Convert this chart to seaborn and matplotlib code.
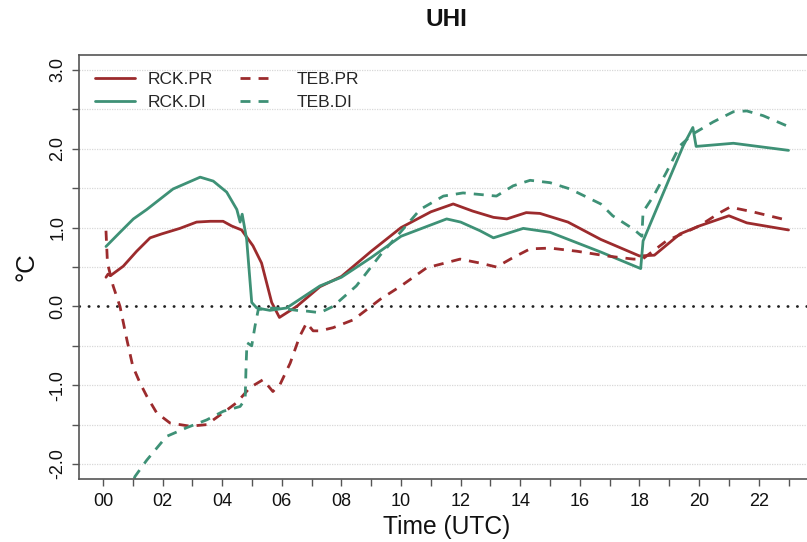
import numpy as np
import pandas as pd
import seaborn as sns
import matplotlib
matplotlib.use("Agg")
import matplotlib.pyplot as plt

# Hourly urban heat island intensity (°C) for four model runs
rck_pr_hour = [0.1, 0.17, 0.25, 0.68, 1.13, 1.58, 1.97, 2.58, 3.14, 3.6, 4.03, 4.32, 4.65,
               5.03, 5.32, 5.66, 5.92, 6.5, 7.28, 8.0, 9.0, 10.0, 11.0, 11.75, 12.4, 13.1,
               13.55, 14.2, 14.66, 15.6, 16.7, 18.0, 18.5, 19.36, 20.0, 21.0, 21.6, 23.0]
rck_pr_uhi = [0.37, 0.41, 0.39, 0.51, 0.70, 0.87, 0.92, 0.99, 1.07, 1.08, 1.08, 1.02, 0.97,
              0.77, 0.55, 0.05, -0.14, 0.0, 0.25, 0.38, 0.70, 1.0, 1.20, 1.30, 1.21, 1.13,
              1.11, 1.19, 1.18, 1.07, 0.85, 0.64, 0.65, 0.92, 1.02, 1.15, 1.06, 0.97]

rck_di_hour = [0.1, 0.57, 1.02, 1.47, 2.35, 3.26, 3.7, 4.15, 4.49, 4.6, 4.67, 4.82, 4.99,
               5.16, 5.6, 6.16, 7.28, 8.0, 9.0, 10.0, 11.53, 12.0, 12.65, 13.1, 14.1, 15.0,
               16.7, 18.04, 18.12, 18.9, 19.47, 19.79, 19.9, 21.15, 23.0]
rck_di_uhi = [0.76, 0.94, 1.11, 1.23, 1.49, 1.64, 1.59, 1.45, 1.23, 1.07, 1.17, 0.85, 0.05,
              -0.02, -0.05, -0.02, 0.26, 0.37, 0.62, 0.89, 1.11, 1.07, 0.96, 0.87, 0.99, 0.94,
              0.69, 0.48, 0.83, 1.53, 2.04, 2.27, 2.03, 2.07, 1.98]

teb_pr_hour = [0.1, 0.15, 0.34, 0.57, 0.8, 1.0, 1.24, 1.47, 1.8, 2.25, 2.92, 3.48, 4.03,
               4.49, 4.93, 5.37, 5.7, 5.94, 6.28, 6.6, 6.83, 7.05, 7.28, 7.72, 8.4, 9.3,
               10.0, 10.86, 11.98, 12.65, 13.2, 13.76, 14.33, 15.0, 15.9, 16.9, 17.8, 18.1,
               18.9, 20.0, 20.7, 21.04, 21.8, 23.0]
teb_pr_uhi = [0.96, 0.55, 0.26, 0.0, -0.42, -0.76, -0.97, -1.14, -1.35, -1.48, -1.52, -1.50,
              -1.35, -1.22, -1.03, -0.93, -1.08, -0.99, -0.72, -0.38, -0.21, -0.31, -0.31,
              -0.27, -0.17, 0.09, 0.26, 0.49, 0.60, 0.55, 0.50, 0.62, 0.73, 0.74, 0.70,
              0.64, 0.60, 0.60, 0.83, 1.02, 1.19, 1.26, 1.20, 1.09]

teb_di_hour = [0.85, 1.07, 1.47, 2.13, 2.8, 3.48, 4.04, 4.6, 4.77, 4.80, 4.83, 4.99, 5.1,
               5.21, 5.6, 6.1, 6.5, 6.84, 7.28, 7.72, 8.5, 8.85, 9.3, 10.0, 10.64, 11.42,
               12.08, 12.65, 13.2, 13.76, 14.33, 15.0, 15.67, 16.7, 17.1, 17.8, 18.08,
               18.12, 18.47, 18.9, 19.36, 19.8, 20.47, 21.15, 21.6, 22.15, 22.95]
teb_di_uhi = [-2.4, -2.16, -1.95, -1.65, -1.54, -1.44, -1.33, -1.27, -1.18, -0.76, -0.46,
              -0.50, -0.25, -0.04, -0.02, -0.03, -0.05, -0.06, -0.08, 0.0, 0.26, 0.43,
              0.65, 0.95, 1.23, 1.40, 1.44, 1.42, 1.40, 1.53, 1.60, 1.57, 1.49, 1.30,
              1.15, 0.98, 0.89, 1.2, 1.40, 1.70, 2.04, 2.19, 2.34, 2.47, 2.48, 2.42, 2.29]

series_names = ["RCK.PR", "RCK.DI", "TEB.PR", "TEB.DI"]
hour_tick_labels = ["00", "02", "04", "06", "08", "10", "12", "14", "16", "18", "20", "22"]
uhi_tick_labels = ["-2.0", "-1.0", "0.0", "1.0", "2.0", "3.0"]

RED = "#9c2b2d"
GREEN = "#3e9176"
styles = {
    "RCK.PR": dict(color=RED, dashed=False),
    "RCK.DI": dict(color=GREEN, dashed=False),
    "TEB.PR": dict(color=RED, dashed=True),
    "TEB.DI": dict(color=GREEN, dashed=True),
}

frames = []
for name, h, v in zip(series_names,
                      [rck_pr_hour, rck_di_hour, teb_pr_hour, teb_di_hour],
                      [rck_pr_uhi, rck_di_uhi, teb_pr_uhi, teb_di_uhi]):
    frames.append(pd.DataFrame({"hour": h, "uhi": v, "run": name}))
df = pd.concat(frames, ignore_index=True)

sns.set_theme(style="white")
plt.rcParams["font.family"] = ["Liberation Sans", "DejaVu Sans"]

fig = plt.figure(figsize=(8.07, 5.42), dpi=100)
ax = fig.add_axes([79 / 807, 1 - 479 / 542, 1 - 79 / 807, (479 - 55) / 542])

# reference grid every half degree, dotted zero line
for gy in np.arange(-2.0, 3.01, 0.5):
    if abs(gy) < 1e-9:
        continue
    ax.axhline(gy, color="#d8d8d8", lw=0.9, ls=(0, (1, 1)), zorder=0)
ax.axhline(0.0, color="#222222", lw=2.0, ls=(0, (0.1, 3.3)),
           dash_capstyle="round", zorder=1)

for name in series_names:
    st = styles[name]
    sub = df[df["run"] == name]
    sns.lineplot(data=sub, x="hour", y="uhi", ax=ax, color=st["color"],
                 lw=2.0, estimator=None, sort=False, label=name, legend=False)
    line = ax.get_lines()[-1]
    if st["dashed"]:
        line.set_dashes((3.6, 2.9))

ax.set_xlim(-0.805, 23.62)
ax.set_ylim(-2.19, 3.19)

ax.set_xticks(np.arange(0, 24, 1))
ax.set_xticklabels([hour_tick_labels[i // 2] if i % 2 == 0 else "" for i in range(24)])
ax.set_yticks(np.arange(-2.0, 3.01, 0.5))
ax.set_yticklabels([uhi_tick_labels[int(round(t)) + 2] if abs(t - round(t)) < 1e-9 else ""
                    for t in np.arange(-2.0, 3.01, 0.5)])
for lab in ax.get_yticklabels():
    lab.set_rotation(90)
    lab.set_va("center")

ax.tick_params(axis="both", direction="out", length=5, width=1.0, color="#555555",
               labelsize=13, labelcolor="#111111")
ax.tick_params(axis="x", pad=5, bottom=True)
ax.tick_params(axis="y", pad=4, left=True)

for side in ["left", "bottom", "top"]:
    ax.spines[side].set_color("#555555")
    ax.spines[side].set_linewidth(1.2)
ax.spines["right"].set_visible(False)

ax.set_xlabel("Time (UTC)", fontsize=17.7, color="#111111", labelpad=4)
ax.xaxis.label.set_x(0.505)
ax.set_ylabel("°C", fontsize=18.5, color="#111111", labelpad=8)
ax.set_title("UHI", fontsize=17.5, fontweight="bold", color="#111111", pad=21, x=0.505)

# two legend columns: RCK runs (solid) and TEB runs (dashed)
handles, labels = ax.get_legend_handles_labels()
lookup = dict(zip(labels, handles))
common = dict(loc="upper left", bbox_transform=fig.transFigure, frameon=False,
              fontsize=12.5, labelspacing=0.42, borderpad=0, borderaxespad=0)
leg_rck = ax.legend([lookup["RCK.PR"], lookup["RCK.DI"]], ["RCK.PR", "RCK.DI"],
                    bbox_to_anchor=(95 / 807, 1 - 72 / 542),
                    handlelength=2.3, handletextpad=0.75, **common)
ax.add_artist(leg_rck)
ax.legend([lookup["TEB.PR"], lookup["TEB.DI"]], ["TEB.PR", "TEB.DI"],
          bbox_to_anchor=(240 / 807, 1 - 72 / 542),
          handlelength=1.61, handletextpad=1.67, **common)

fig.savefig("out.png", dpi=100)
